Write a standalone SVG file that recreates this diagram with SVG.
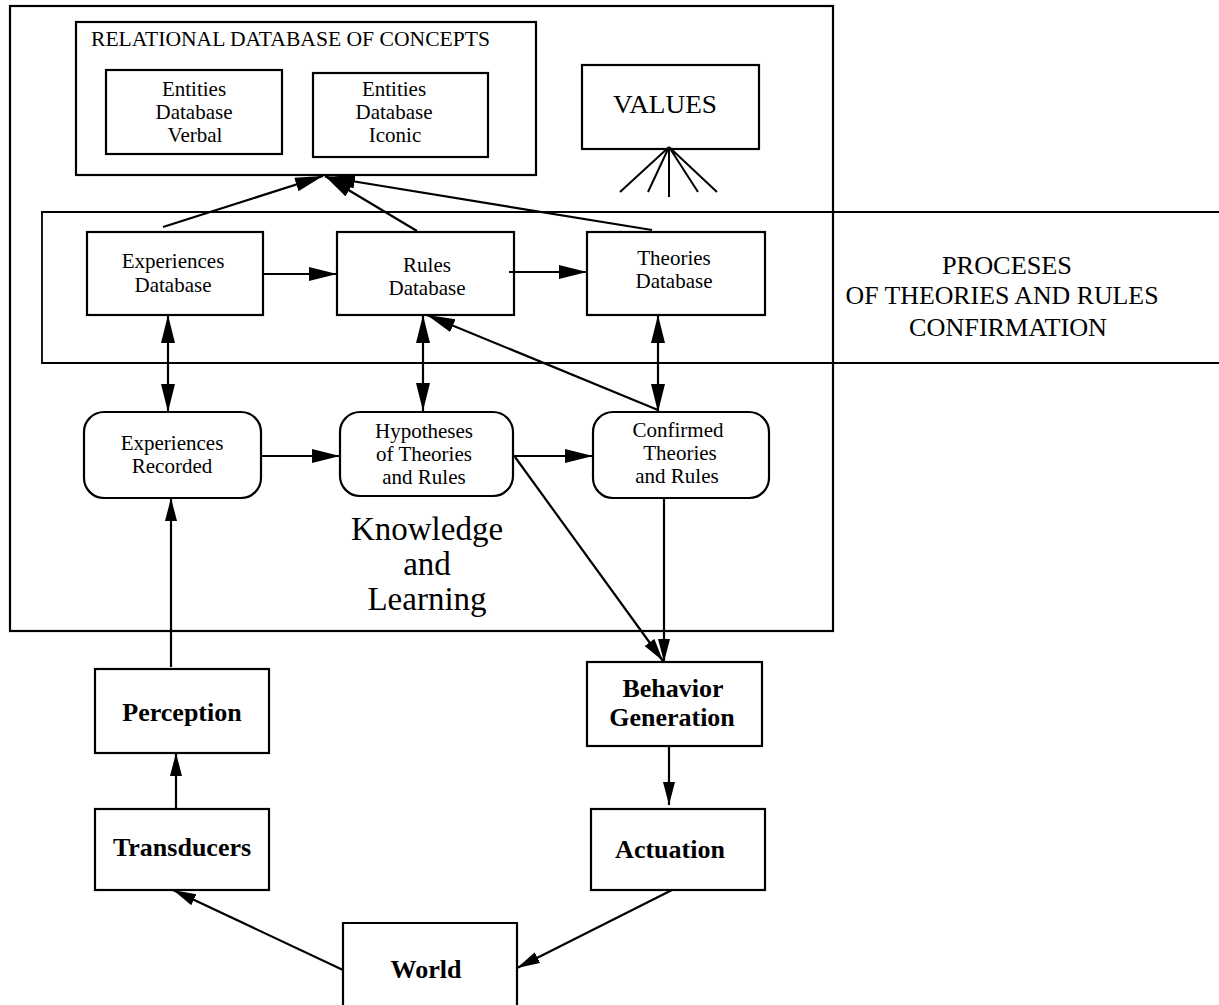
<svg xmlns="http://www.w3.org/2000/svg" width="1219" height="1005" viewBox="0 0 1219 1005">
  <style>
    .box { fill: #fff; stroke: #000; stroke-width: 2.2; }
    .frame { fill: none; stroke: #000; stroke-width: 2.2; }
    .band { fill: none; stroke: #000; stroke-width: 1.8; }
    .t { font-family: "Liberation Serif", "Times New Roman", serif; font-size: 21px; fill: #000; text-anchor: middle; }
    .tb { font-family: "Liberation Serif", "Times New Roman", serif; font-size: 26px; font-weight: bold; fill: #000; text-anchor: middle; }
    .tc { font-family: "Liberation Serif", "Times New Roman", serif; font-size: 25px; fill: #000; text-anchor: middle; }
    .tl { font-family: "Liberation Serif", "Times New Roman", serif; font-size: 33px; fill: #000; text-anchor: middle; }
    .c { fill: none; stroke: #000; stroke-width: 2.2; }
    .fan { fill: none; stroke: #000; stroke-width: 2; }
  </style>
  <defs>
    <marker id="ah" markerUnits="userSpaceOnUse" markerWidth="30" markerHeight="16" refX="28" refY="7" orient="auto-start-reverse" viewBox="0 0 30 16">
      <path d="M0,0 L28,7 L0,14 Z" fill="#000"/>
    </marker>
    <marker id="ahs" markerUnits="userSpaceOnUse" markerWidth="26" markerHeight="14" refX="23" refY="6" orient="auto-start-reverse" viewBox="0 0 26 14">
      <path d="M0,0 L23,6 L0,12 Z" fill="#000"/>
    </marker>
  </defs>

  <!-- Knowledge and Learning frame -->
  <rect id="knowledge-frame" class="frame" x="10" y="6" width="823" height="625"/>

  <!-- band of theory and rule confirmation processes, open on the right -->
  <g id="proceses-band">
    <path class="band" d="M1219,212 H42 V363 H1219"/>
    <text class="tc" x="1007" y="274" textLength="130" lengthAdjust="spacingAndGlyphs">PROCESES</text>
    <text class="tc" x="1002" y="304" textLength="313" lengthAdjust="spacingAndGlyphs">OF THEORIES AND RULES</text>
    <text class="tc" x="1008" y="336" textLength="198" lengthAdjust="spacingAndGlyphs">CONFIRMATION</text>
  </g>

  <g id="relational-db">
    <rect class="box" x="76" y="22" width="460" height="153"/>
    <text class="t" x="91" y="46" style="text-anchor:start" textLength="399" lengthAdjust="spacingAndGlyphs">RELATIONAL DATABASE OF CONCEPTS</text>
  </g>
  <g id="entities-verbal">
    <rect class="box" x="106" y="70" width="176" height="84"/>
    <text class="t" x="194" y="96">Entities</text>
    <text class="t" x="194" y="119">Database</text>
    <text class="t" x="195" y="142">Verbal</text>
  </g>
  <g id="entities-iconic">
    <rect class="box" x="313" y="73" width="175" height="84"/>
    <text class="t" x="394" y="96">Entities</text>
    <text class="t" x="394" y="119">Database</text>
    <text class="t" x="395" y="142">Iconic</text>
  </g>

  <g id="values">
    <rect class="box" x="582" y="65" width="177" height="84"/>
    <text class="tc" x="665" y="113" textLength="104" lengthAdjust="spacingAndGlyphs">VALUES</text>
    <path class="fan" d="M669,147 L620,192 M669,147 L648,192 M669,147 L669,197 M669,147 L698,192 M669,147 L717,192"/>
  </g>

  <g id="experiences-db">
    <rect class="box" x="87" y="232" width="176" height="83"/>
    <text class="t" x="173" y="268">Experiences</text>
    <text class="t" x="173" y="292">Database</text>
  </g>
  <g id="rules-db">
    <rect class="box" x="337" y="232" width="177" height="83"/>
    <text class="t" x="427" y="272">Rules</text>
    <text class="t" x="427" y="295">Database</text>
  </g>
  <g id="theories-db">
    <rect class="box" x="587" y="232" width="178" height="83"/>
    <text class="t" x="674" y="265">Theories</text>
    <text class="t" x="674" y="288">Database</text>
  </g>

  <g id="experiences-recorded">
    <rect class="box" x="84" y="412" width="177" height="86" rx="20" ry="20"/>
    <text class="t" x="172" y="450">Experiences</text>
    <text class="t" x="172" y="473">Recorded</text>
  </g>
  <g id="hypotheses">
    <rect class="box" x="340" y="412" width="173" height="84" rx="20" ry="20"/>
    <text class="t" x="424" y="438">Hypotheses</text>
    <text class="t" x="424" y="461">of Theories</text>
    <text class="t" x="424" y="484">and Rules</text>
  </g>
  <g id="confirmed">
    <rect class="box" x="593" y="412" width="176" height="86" rx="20" ry="20"/>
    <text class="t" x="678" y="437">Confirmed</text>
    <text class="t" x="680" y="460">Theories</text>
    <text class="t" x="677" y="483">and Rules</text>
  </g>

  <g id="knowledge-label">
    <text class="tl" x="427" y="540">Knowledge</text>
    <text class="tl" x="427" y="575">and</text>
    <text class="tl" x="427" y="610">Learning</text>
  </g>

  <g id="perception">
    <rect class="box" x="95" y="669" width="174" height="84"/>
    <text class="tb" x="182" y="721">Perception</text>
  </g>
  <g id="transducers">
    <rect class="box" x="95" y="809" width="174" height="81"/>
    <text class="tb" x="182" y="856">Transducers</text>
  </g>
  <g id="behavior-generation">
    <rect class="box" x="587" y="662" width="175" height="84"/>
    <text class="tb" x="673" y="697">Behavior</text>
    <text class="tb" x="672" y="726">Generation</text>
  </g>
  <g id="actuation">
    <rect class="box" x="591" y="809" width="174" height="81"/>
    <text class="tb" x="670" y="858">Actuation</text>
  </g>
  <g id="world">
    <path class="box" d="M343,1006 V923 H517 V1006"/>
    <text class="tb" x="426" y="978">World</text>
  </g>

  <g id="connectors">
    <!-- into the relational database -->
    <line class="c" x1="163" y1="227" x2="323" y2="176" marker-end="url(#ah)"/>
    <line class="c" x1="417" y1="231" x2="325" y2="176" marker-end="url(#ah)"/>
    <line class="c" x1="652" y1="230" x2="327" y2="177" marker-end="url(#ah)"/>
    <!-- along the databases -->
    <line class="c" x1="262" y1="274" x2="337" y2="274" marker-end="url(#ah)"/>
    <line class="c" x1="509" y1="272" x2="587" y2="272" marker-end="url(#ah)"/>
    <!-- databases to and from the working stores -->
    <line class="c" x1="168" y1="315" x2="168" y2="412" marker-start="url(#ah)" marker-end="url(#ah)"/>
    <line class="c" x1="423" y1="315" x2="423" y2="411" marker-start="url(#ah)" marker-end="url(#ah)"/>
    <line class="c" x1="658" y1="315" x2="658" y2="412" marker-start="url(#ah)" marker-end="url(#ah)"/>
    <line class="c" x1="658" y1="410" x2="427" y2="315" marker-end="url(#ah)"/>
    <!-- along the working stores -->
    <line class="c" x1="261" y1="456" x2="340" y2="456" marker-end="url(#ah)"/>
    <line class="c" x1="513" y1="456" x2="593" y2="456" marker-end="url(#ah)"/>
    <!-- into behavior generation -->
    <line class="c" x1="515" y1="457" x2="663" y2="661" marker-end="url(#ahs)"/>
    <line class="c" x1="664" y1="498" x2="664" y2="662" marker-end="url(#ahs)"/>
    <!-- perception loop -->
    <line class="c" x1="171" y1="667" x2="171" y2="498" marker-end="url(#ahs)"/>
    <line class="c" x1="176" y1="809" x2="176" y2="753" marker-end="url(#ahs)"/>
    <line class="c" x1="343" y1="970" x2="173" y2="890" marker-end="url(#ahs)"/>
    <!-- action loop -->
    <line class="c" x1="669" y1="746" x2="669" y2="805" marker-end="url(#ahs)"/>
    <line class="c" x1="672" y1="890" x2="517" y2="968" marker-end="url(#ahs)"/>
  </g>
</svg>
